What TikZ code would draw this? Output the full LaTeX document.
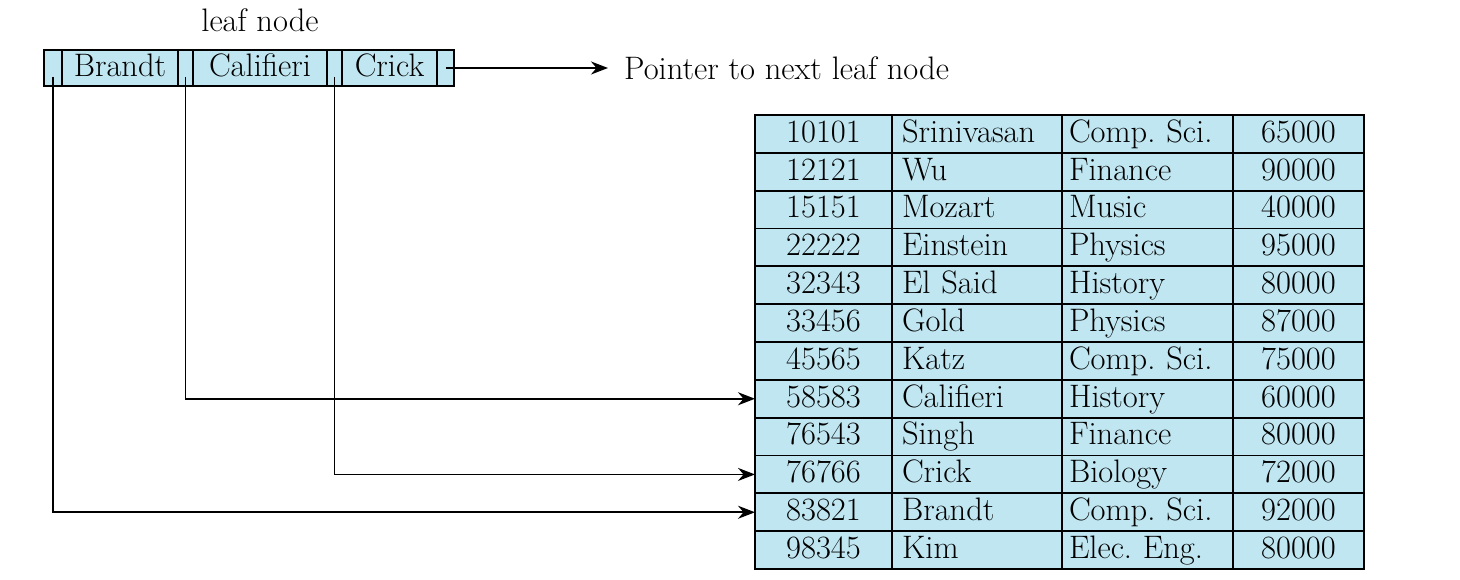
\documentclass[tikz,border=0pt]{standalone}
\usepackage{tikz}
\usetikzlibrary{positioning,arrows.meta,calc}
\definecolor{cellblue}{RGB}{192,230,241}

\begin{document}
\begin{tikzpicture}[
  >={Stealth[length=0.34cm,width=0.26cm]},
  every node/.style={font=\fontsize{18.5}{22}\selectfont\frenchspacing},
  leaf/.style={draw=black, line width=1pt, fill=cellblue, outer sep=0pt, inner sep=0pt, minimum height=0.72cm, text height=13.5pt, text depth=4pt},
  cell/.style={draw=black, line width=1pt, fill=cellblue, outer sep=0pt, inner ysep=0pt, minimum height=0.7567cm, text height=13.5pt, text depth=4pt},
  ctr/.style={cell, inner xsep=0pt},
  lft/.style={cell, align=left},
  arr/.style={->, line width=1pt},
  lab/.style={align=center}
]
  \useasboundingbox (0,0) rectangle (29.2,11.6);

  % Leaf node
  \node[leaf, minimum width=0.36cm, anchor=west] (p1) at (0.88,10.24) {};
  \node[leaf, minimum width=2.32cm, right=0pt of p1] (k1) {Brandt};
  \node[leaf, minimum width=0.30cm, right=0pt of k1] (p2) {};
  \node[leaf, minimum width=2.68cm, right=0pt of p2] (k2) {Califieri};
  \node[leaf, minimum width=0.30cm, right=0pt of k2] (p3) {};
  \node[leaf, minimum width=1.90cm, right=0pt of p3] (k3) {Crick};
  \node[leaf, minimum width=0.34cm, right=0pt of k3] (p4) {};
  \node[lab, above=0.24cm of k2] (title) {leaf node};

  \coordinate (nxt) at (12.16,10.24);
  \node[lab, right=0.2cm of nxt] (ptrtxt) {Pointer to next leaf node};

  % Relation instructor
  \foreach \id/\nm/\dept/\sal [count=\i] in {
      10101/Srinivasan/Comp. Sci./65000,
      12121/Wu/Finance/90000,
      15151/Mozart/Music/40000,
      22222/Einstein/Physics/95000,
      32343/El Said/History/80000,
      33456/Gold/Physics/87000,
      45565/Katz/Comp. Sci./75000,
      58583/Califieri/History/60000,
      76543/Singh/Finance/80000,
      76766/Crick/Biology/72000,
      83821/Brandt/Comp. Sci./92000,
      98345/Kim/Elec. Eng./80000} {
    \node[ctr, minimum width=2.74cm, anchor=west] (id\i) at (15.1,{9.3-(\i-0.5)*0.7567}) {\id};
    \node[lft, inner xsep=0.2cm, text width=3.0cm, right=0pt of id\i] (nm\i) {\nm};
    \node[lft, inner xsep=0.14cm, text width=3.14cm, right=0pt of nm\i] (dp\i) {\dept};
    \node[ctr, minimum width=2.62cm, right=0pt of dp\i] (sl\i) {\sal};
  }

  % Pointers
  \coordinate (t1) at ($(p1.south)+(0,0.18)$);
  \coordinate (t2) at ($(p2.south)+(0,0.18)$);
  \coordinate (t3) at ($(p3.south)+(0,0.18)$);
  \draw[arr] (t1) |- (id11.west);
  \draw[arr] (t2) |- (id8.west);
  \draw[arr] (t3) |- (id10.west);
  \draw[arr] (p4.center) -- (nxt);
\end{tikzpicture}
\end{document}
